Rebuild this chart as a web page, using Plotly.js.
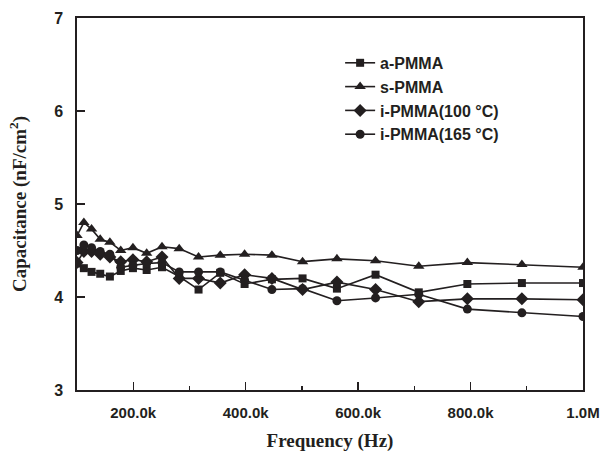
<!DOCTYPE html>
<html><head><meta charset="utf-8">
<script src="https://cdn.plot.ly/plotly-3.0.1.min.js"></script>
<style>html,body{margin:0;padding:0;background:#fff}#chart{width:606px;height:456px}</style>
</head><body><div id="chart"></div>
<script>
const frequency = [100000, 112200, 125900, 141300, 158500, 177800, 199500, 223900, 251200, 281800, 316200, 354800, 398100, 446700, 501200, 562300, 631000, 707900, 794300, 891300, 1000000];
const aPMMA = [4.36, 4.31, 4.27, 4.25, 4.22, 4.28, 4.31, 4.29, 4.32, 4.22, 4.08, 4.26, 4.14, 4.19, 4.20, 4.09, 4.24, 4.05, 4.14, 4.15, 4.15];
const sPMMA = [4.66, 4.80, 4.73, 4.62, 4.59, 4.50, 4.53, 4.47, 4.54, 4.52, 4.43, 4.45, 4.46, 4.45, 4.38, 4.41, 4.39, 4.33, 4.37, 4.35, 4.32];
const iPMMA100 = [4.37, 4.49, 4.49, 4.46, 4.43, 4.38, 4.40, 4.38, 4.43, 4.20, 4.20, 4.15, 4.24, 4.20, 4.08, 4.16, 4.08, 3.95, 3.98, 3.98, 3.97];
const iPMMA165 = [4.50, 4.56, 4.53, 4.49, 4.46, 4.32, 4.34, 4.36, 4.37, 4.27, 4.27, 4.27, 4.18, 4.08, 4.09, 3.96, 3.99, 4.03, 3.87, 3.83, 3.79];
const seriesNames = ['a-PMMA', 's-PMMA', 'i-PMMA(100 \u00B0C)', 'i-PMMA(165 \u00B0C)'];
const symbols = ['square', 'triangle-up', 'diamond', 'circle'];
const markerSizes = [8, 10, 10, 9];
const xTickVals = [200000, 400000, 600000, 800000, 1000000];
const xTickText = ['200.0k', '400.0k', '600.0k', '800.0k', '1.0M'];

const ink = '#231f20';
const data = [aPMMA, sPMMA, iPMMA100, iPMMA165].map((ys, i) => ({
  x: frequency, y: ys, name: seriesNames[i], type: 'scatter', mode: 'lines+markers',
  line: {color: ink, width: 1.6},
  marker: {symbol: symbols[i], size: markerSizes[i], color: ink}
}));

const layout = {
  width: 606, height: 456,
  margin: {l: 77, r: 23, t: 18, b: 66},
  paper_bgcolor: '#fff', plot_bgcolor: '#fff',
  showlegend: true,
  legend: {x: 0.52, y: 0.925, xanchor: 'left', yanchor: 'top', bgcolor: 'rgba(0,0,0,0)',
    font: {family: 'Liberation Sans, Arial, sans-serif', size: 16, color: ink, weight: 'bold'},
    tracegroupgap: 0, itemwidth: 30},
  xaxis: {
    range: [100000, 1000000], tickvals: xTickVals, ticktext: xTickText,
    ticks: 'inside', ticklen: 8, tickwidth: 1.3, tickcolor: ink,
    minor: {dtick: 100000, tick0: 100000, ticks: 'inside', ticklen: 4, tickwidth: 1.3, tickcolor: ink},
    showline: true, mirror: true, linecolor: ink, linewidth: 1.6,
    showgrid: false, zeroline: false, ticklabelstandoff: 8,
    tickfont: {family: 'Liberation Sans, Arial, sans-serif', size: 15, color: ink, weight: 'bold'},
    title: {text: 'Frequency (Hz)', standoff: 14,
      font: {family: 'Liberation Serif, Times New Roman, serif', size: 19, color: ink, weight: 'bold'}}
  },
  yaxis: {
    range: [3, 7], tickvals: [3, 4, 5, 6, 7],
    ticks: 'inside', ticklen: 8, tickwidth: 1.3, tickcolor: ink,
    showline: true, mirror: true, linecolor: ink, linewidth: 1.6,
    showgrid: false, zeroline: false, ticklabelstandoff: 9,
    tickfont: {family: 'Liberation Sans, Arial, sans-serif', size: 16, color: ink, weight: 'bold'},
    title: {text: 'Capacitance (nF/cm<sup>2</sup>)', standoff: 22,
      font: {family: 'Liberation Serif, Times New Roman, serif', size: 19, color: ink, weight: 'bold'}}
  }
};
Plotly.newPlot('chart', data, layout, {displayModeBar: false, staticPlot: true});
</script></body></html>
